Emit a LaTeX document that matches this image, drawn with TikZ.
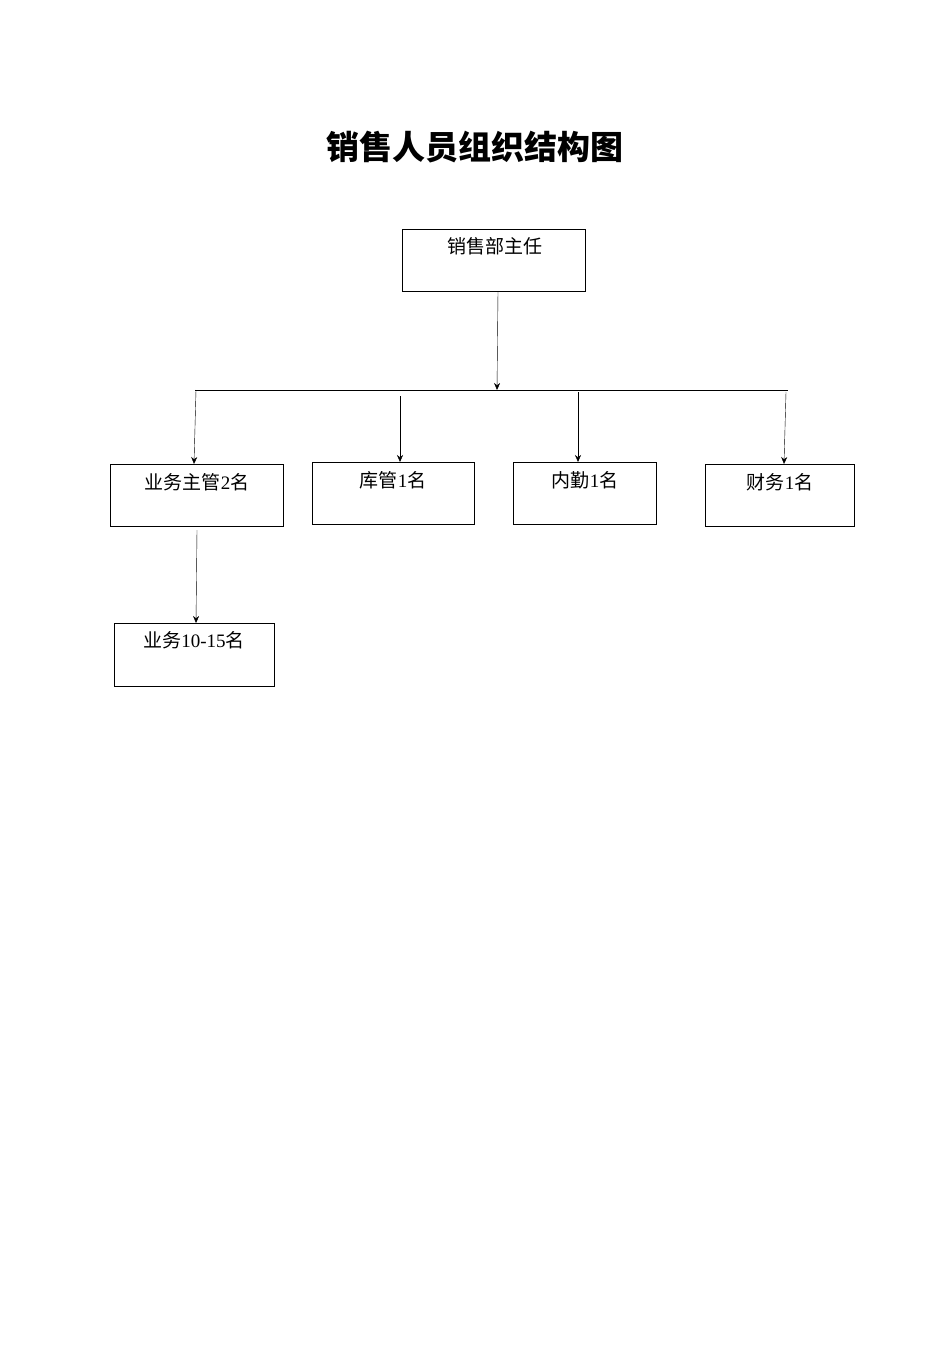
\documentclass[tikz,border=0pt]{standalone}
\usepackage{fontspec}
\setmainfont{Liberation Serif}
\newfontfamily\cjk{Noto Sans CJK SC}
\usetikzlibrary{arrows.meta}
\begin{document}
\begin{tikzpicture}[x=1pt,y=-1pt,
    box/.style={draw,thin,inner sep=0pt,anchor=north west},
    lbl/.style={anchor=north,font=\fontsize{19}{21}\selectfont},
    arr/.style={-{Stealth[length=7pt,width=6pt]},black}]
    \useasboundingbox (0,0) rectangle (950,1346);
    \node[font=\cjk\bfseries\fontsize{33}{36}\selectfont] (title) at (475,147) {销售人员组织结构图};

    % boxes
    \node[box,minimum width=183pt,minimum height=62pt] (head) at (402,229) {};
    \node[box,minimum width=173pt,minimum height=62pt] (sup) at (110,464) {};
    \node[box,minimum width=162pt,minimum height=62pt] (store) at (312,462) {};
    \node[box,minimum width=143pt,minimum height=62pt] (office) at (513,462) {};
    \node[box,minimum width=149pt,minimum height=62pt] (fin) at (705,464) {};
    \node[box,minimum width=160pt,minimum height=63pt] (staff) at (114,623) {};

    % labels
    \node[lbl] at (495,234) {{\cjk 销售部主任}};
    \node[lbl] at (197,470) {{\cjk 业务主管}2{\cjk 名}};
    \node[lbl] at (393,468) {{\cjk 库管}1{\cjk 名}};
    \node[lbl] at (585,468) {{\cjk 内勤}1{\cjk 名}};
    \node[lbl] at (780,470) {{\cjk 财务}1{\cjk 名}};
    \node[lbl] at (194,628) {{\cjk 业务}10-15{\cjk 名}};

    % bar and connectors
    \coordinate (barL) at (195,390);
    \coordinate (barR) at (788,390);
    \coordinate (barM) at (497,390);
    \draw (barL) -- (barR);
    \draw[arr] (498,291) -- (barM);
    \draw[arr] (196,390) -- (194,464);
    \draw[arr] (400,396) -- (400,462);
    \draw[arr] (578,392) -- (578,462);
    \draw[arr] (786,392) -- (784,464);
    \draw[arr] (197,530) -- (196,623);
\end{tikzpicture}
\end{document}
